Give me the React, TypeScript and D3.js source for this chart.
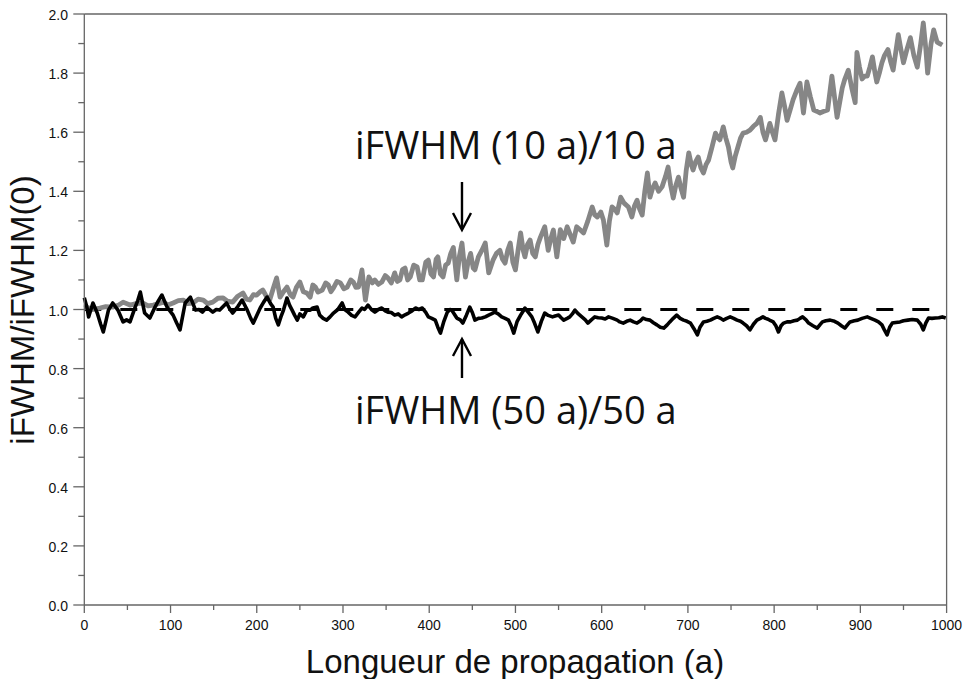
import React from "react";
import * as d3 from "d3";

// ---- data ----
const xTicksMajor = [0, 100, 200, 300, 400, 500, 600, 700, 800, 900, 1000];
const yTicksMajor = [0, 0.2, 0.4, 0.6, 0.8, 1.0, 1.2, 1.4, 1.6, 1.8, 2.0];
const xTitle = "Longueur de propagation (a)";
const yTitle = "iFWHM/iFWHM(0)";
const label10 = "iFWHM (10 a)/10 a";
const label50 = "iFWHM (50 a)/50 a";
const referenceLevel = 1.0;

const gray10: [number, number][] = [
  [0,1.005],[3,1.008],[10,1.0],[18,1.005],[25,1.01],[33,1.008],[40,1.015],[45,1.025],[53,1.015],[60,1.02],[68,1.022],[74,1.012],[80,1.015],[86,1.02],[92,1.025],[97,1.015],[103,1.022],[109,1.03],[115,1.032],[120,1.02],[126,1.022],[132,1.035],[138,1.032],[143,1.02],[149,1.025],[155,1.038],[161,1.039],[166,1.028],[172,1.025],[178,1.045],[184,1.056],[188,1.035],[192,1.032],[196,1.05],[200,1.049],[204,1.06],[207,1.066],[211,1.045],[215,1.032],[219,1.07],[223,1.107],[227,1.042],[231,1.06],[235,1.076],[239,1.05],[242,1.042],[246,1.075],[250,1.093],[254,1.06],[258,1.056],[262,1.042],[265,1.083],[268,1.076],[271,1.059],
  [276,1.066],[280,1.09],[283,1.083],[286,1.06],[289,1.073],[293,1.095],[297,1.09],[301,1.07],[305,1.076],[309,1.1],[312,1.093],[315,1.075],[318,1.076],[322,1.134],[326,1.032],[330,1.11],[334,1.09],[337,1.10],[341,1.085],[345,1.093],[349,1.115],[352,1.107],[356,1.09],[360,1.124],[363,1.095],[366,1.10],[369,1.135],[372,1.14],[375,1.1],[378,1.11],[382,1.15],[386,1.144],[389,1.1],[392,1.10],[396,1.16],[399,1.167],[402,1.12],[405,1.11],[408,1.17],[410,1.178],[413,1.12],[416,1.11],[419,1.15],[422,1.157],[425,1.19],[428,1.21],[432,1.10],[435,1.18],[438,1.225],[442,1.11],[445,1.16],[448,1.19],[451,1.14],[453,1.134],[457,1.178],[461,1.2],[465,1.225],[469,1.124],[474,1.167],[478,1.19],[482,1.20],[485,1.17],[488,1.157],[491,1.2],[494,1.225],[497,1.16],[500,1.134],[503,1.2],[506,1.259],[509,1.2],[511,1.178],[514,1.22],[517,1.235],[520,1.19],[523,1.178],[526,1.22],[529,1.245],[534,1.28],[538,1.20],[541,1.24],[544,1.269],
  [548,1.178],[552,1.27],[556,1.24],[560,1.28],[564,1.25],[567,1.228],[571,1.28],[575,1.27],[579,1.259],[584,1.3],[589,1.347],[592,1.32],[595,1.313],[599,1.33],[602,1.303],[606,1.218],[609,1.3],[612,1.347],[615,1.34],[618,1.327],[622,1.38],[626,1.36],[631,1.347],[635,1.313],[638,1.35],[641,1.37],[644,1.34],[647,1.32],[650,1.4],[653,1.462],[656,1.38],[659,1.41],[662,1.428],[666,1.40],[670,1.415],[674,1.45],[677,1.482],[680,1.42],[683,1.377],[686,1.42],[689,1.448],[692,1.41],[695,1.38],[698,1.47],[701,1.53],[704,1.49],[706,1.472],[709,1.5],[712,1.516],[715,1.48],[718,1.462],[721,1.49],[724,1.506],[728,1.55],[732,1.597],[735,1.58],[737,1.574],[741,1.618],[744,1.58],[747,1.55],[750,1.5],[752,1.479],[755,1.52],[758,1.55],[761,1.58],[764,1.597],[768,1.6],[772,1.607],[776,1.62],[780,1.63],[784,1.65],
  [787,1.6],[790,1.574],[795,1.63],[798,1.6],[801,1.574],[805,1.66],[809,1.733],[812,1.69],[815,1.64],[819,1.68],[822,1.71],[826,1.74],[830,1.766],[834,1.665],[838,1.77],[842,1.72],[846,1.675],[850,1.67],[853,1.665],[857,1.67],[862,1.675],[867,1.79],[870,1.72],[873,1.65],[876,1.7],[879,1.75],[882,1.78],[886,1.81],[890,1.75],[894,1.70],[896,1.87],[899,1.82],[902,1.78],[905,1.79],[908,1.79],[911,1.82],[914,1.855],[917,1.8],[919,1.77],[922,1.8],[925,1.835],[928,1.86],[932,1.88],[935,1.84],[938,1.81],[941,1.87],[944,1.93],[947,1.88],[950,1.835],[954,1.88],[958,1.92],[962,1.86],[966,1.82],[970,1.9],[973,1.97],[976,1.88],[978,1.80],[982,1.9],[985,1.946],[989,1.905],[992,1.9],[995,1.895]
];

const black50: [number, number][] = [
  [0,1.04],[3,1.008],[5,0.975],[10,1.022],[15,0.988],[19,0.95],[22,0.924],[25,0.96],[28,0.998],[33,1.022],[39,0.998],[45,0.958],[49,0.965],[53,0.958],[59,1.008],[62,1.03],[65,1.059],[70,0.988],[76,0.971],[82,1.008],[86,1.03],[90,1.049],[96,1.008],[103,0.981],[107,0.955],[111,0.931],[117,1.022],[123,1.042],[129,0.998],[133,1.0],[137,0.991],[142,1.008],[149,0.991],[153,1.0],[157,0.998],[161,1.01],[165,1.022],[169,1.0],[172,0.988],[178,1.01],[183,1.032],[189,0.998],[193,0.97],[196,0.954],[200,0.98],[204,1.005],[208,1.025],[212,1.042],[216,1.02],[219,1.008],[222,0.97],[225,0.948],[228,0.975],[231,0.998],[235,1.039],[238,1.015],[241,0.998],[244,0.98],[247,0.964],[250,0.985],[254,0.975],[258,0.998],[262,0.998],[265,1.005],[270,1.008],
  [273,0.981],[277,0.97],[281,0.964],[285,0.975],[289,0.988],[294,1.0],[299,1.022],[302,1.0],[306,0.991],[310,0.98],[314,0.975],[318,0.99],[322,1.005],[325,1.0],[329,1.015],[333,1.0],[337,0.991],[341,1.0],[345,1.005],[349,0.995],[352,0.991],[356,0.99],[360,0.981],[364,0.985],[368,0.975],[372,0.982],[376,0.988],[380,0.995],[384,1.005],[388,1.0],[392,1.005],[396,0.99],[399,0.975],[403,0.97],[407,0.964],[410,0.94],[413,0.92],[417,0.96],[421,0.991],[424,1.0],[426,0.998],[429,0.985],[432,0.971],[436,0.965],[439,0.954],[443,0.98],[447,1.008],[450,0.99],[453,0.964],[457,0.97],[461,0.971],[465,0.975],[469,0.981],[472,0.985],[476,0.991],[480,0.985],[484,0.975],[488,0.97],[492,0.964],[495,0.945],[498,0.92],[502,0.96],[506,0.981],[509,0.995],[511,1.005],[515,0.99],[519,0.975],[522,0.955],[526,0.924],[530,0.96],[534,0.988],[538,0.98],[543,0.975],[546,0.978],[550,0.981],
  [553,0.972],[556,0.964],[560,0.97],[563,0.975],[566,0.985],[569,0.998],[573,0.985],[577,0.975],[581,0.965],[584,0.954],[588,0.965],[592,0.975],[596,0.972],[600,0.971],[604,0.968],[608,0.975],[613,0.97],[618,0.964],[621,0.958],[625,0.954],[629,0.96],[633,0.964],[637,0.958],[641,0.954],[645,0.962],[648,0.971],[652,0.966],[656,0.964],[660,0.955],[664,0.948],[668,0.94],[672,0.937],[676,0.948],[679,0.958],[683,0.97],[687,0.981],[691,0.97],[695,0.964],[699,0.96],[703,0.954],[707,0.935],[711,0.914],[714,0.94],[718,0.958],[722,0.96],[726,0.964],[730,0.97],[734,0.975],[738,0.97],[741,0.964],[745,0.97],[749,0.975],[753,0.97],[757,0.964],[761,0.96],[764,0.954],[768,0.945],[772,0.931],[776,0.95],[780,0.964],[784,0.97],[787,0.975],[790,0.97],[793,0.967],
  [796,0.962],[799,0.958],[802,0.945],[805,0.924],[808,0.945],[811,0.954],[815,0.958],[819,0.958],[823,0.962],[827,0.964],[830,0.97],[833,0.975],[837,0.965],[840,0.954],[845,0.945],[850,0.937],[853,0.948],[856,0.958],[860,0.962],[865,0.964],[870,0.96],[874,0.954],[878,0.945],[882,0.937],[885,0.948],[888,0.958],[893,0.962],[897,0.964],[902,0.97],[908,0.975],[912,0.97],[917,0.964],[921,0.958],[925,0.948],[928,0.93],[931,0.914],[934,0.94],[937,0.954],[941,0.956],[946,0.958],[950,0.962],[955,0.964],[960,0.966],[966,0.964],[970,0.95],[973,0.931],[976,0.955],[979,0.971],[983,0.97],[987,0.971],[991,0.972],[995,0.975],[999,0.971]
];

// arrows point at this x (data units)
const arrowX = 438;

export default function App() {
  const W = 968, H = 679;
  const x = d3.scaleLinear().domain([0, 1000]).range([84.3, 946.6]);
  const y = d3.scaleLinear().domain([0, 2]).range([605, 14]);
  const line = d3.line<[number, number]>().x(d => x(d[0])).y(d => y(d[1]));
  const xMinor = d3.range(0, 1001, 50).filter(v => v % 100 !== 0);
  const yMinor = d3.range(1, 20, 2).map(v => v / 10);
  const axisColor = "#666";
  const tickFont = "'Liberation Sans', Arial, sans-serif";
  const annFont = "'Open Sans', 'Noto Sans', sans-serif";
  const ax = x(arrowX);

  return (
    <svg width={W} height={H} style={{ position: "absolute", left: 0, top: 0, background: "#fff" }}>
      {/* reference dashed line */}
      <line x1={x(0)} x2={x(1000)} y1={y(referenceLevel)} y2={y(referenceLevel)}
        stroke="#000" strokeWidth={3} strokeDasharray="17 19" />
      {/* series */}
      <path d={line(gray10) || ""} fill="none" stroke="#868686" strokeWidth={4.8} strokeLinejoin="round" />
      <path d={line(black50) || ""} fill="none" stroke="#000" strokeWidth={3.6} strokeLinejoin="round" />

      {/* frame */}
      <line x1={x(0)} x2={x(1000)} y1={y(2)} y2={y(2)} stroke={axisColor} strokeWidth={1.3} />
      <line x1={x(1000)} x2={x(1000)} y1={y(2)} y2={y(0)} stroke={axisColor} strokeWidth={1.3} />
      <line x1={x(0)} x2={x(1000)} y1={y(0)} y2={y(0)} stroke={axisColor} strokeWidth={1.3} />
      <line x1={x(0)} x2={x(0)} y1={y(2)} y2={y(0)} stroke={axisColor} strokeWidth={1.3} />

      {/* x ticks */}
      {xTicksMajor.map(v => (
        <g key={"xt" + v}>
          <line x1={x(v)} x2={x(v)} y1={y(0)} y2={y(0) + 8} stroke={axisColor} strokeWidth={1.3} />
          <text x={x(v)} y={630} textAnchor="middle" fontFamily={tickFont} fontSize={14} fill="#111">{v}</text>
        </g>
      ))}
      {xMinor.map(v => (
        <line key={"xm" + v} x1={x(v)} x2={x(v)} y1={y(0)} y2={y(0) + 5} stroke={axisColor} strokeWidth={1.3} />
      ))}
      {/* y ticks */}
      {yTicksMajor.map(v => (
        <g key={"yt" + v}>
          <line x1={x(0) - 11} x2={x(0)} y1={y(v)} y2={y(v)} stroke={axisColor} strokeWidth={1.3} />
          <text x={68} y={y(v) + 6} textAnchor="end" fontFamily={tickFont} fontSize={14} fill="#111">{v.toFixed(1)}</text>
        </g>
      ))}
      {yMinor.map(v => (
        <line key={"ym" + v} x1={x(0) - 6} x2={x(0)} y1={y(v)} y2={y(v)} stroke={axisColor} strokeWidth={1.3} />
      ))}

      {/* axis titles */}
      <text x={515} y={673} textAnchor="middle" fontFamily={tickFont} fontSize={33} fill="#111">{xTitle}</text>
      <text transform={`translate(34,310) rotate(-90)`} textAnchor="middle" fontFamily={tickFont} fontSize={33} fill="#111">{yTitle}</text>

      {/* annotations */}
      <text x={355} y={159} fontFamily={annFont} fontSize={38} fill="#111">{label10}</text>
      <text x={355} y={424} fontFamily={annFont} fontSize={38} fill="#111">{label50}</text>

      {/* down arrow */}
      <line x1={ax} x2={ax} y1={182} y2={229} stroke="#000" strokeWidth={2.4} />
      <polyline points={`${ax - 9},${213} ${ax},${230} ${ax + 9},${213}`} fill="none" stroke="#000" strokeWidth={2.4} />
      {/* up arrow */}
      <line x1={ax} x2={ax} y1={339} y2={378} stroke="#000" strokeWidth={2.4} />
      <polyline points={`${ax - 9},${356} ${ax},${339} ${ax + 9},${356}`} fill="none" stroke="#000" strokeWidth={2.4} />
    </svg>
  );
}
